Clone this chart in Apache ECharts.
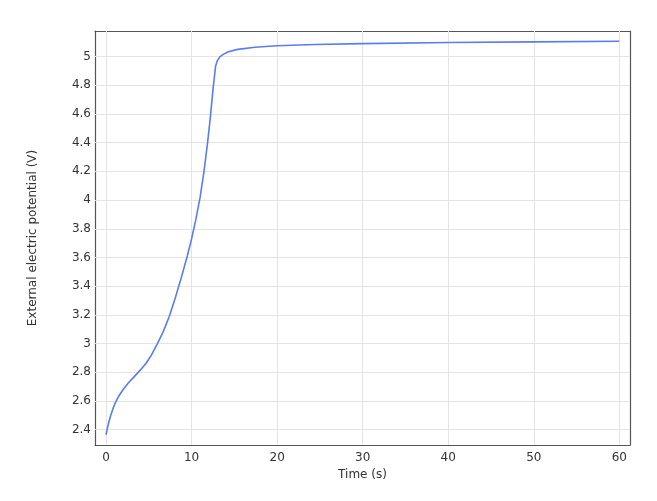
<!DOCTYPE html>
<html><head><meta charset="utf-8">
<script src="https://cdn.jsdelivr.net/npm/echarts@6/dist/echarts.min.js"></script>
<style>html,body{margin:0;padding:0;background:#fff}#c{width:657px;height:501px}</style>
</head><body><div id="c"></div>
<script>
const timeS = [0, 0.25, 0.5, 0.8, 1.1, 1.5, 2.0, 2.6, 3.3, 4.0, 4.7, 5.3, 5.92, 6.7, 7.4, 8.1, 8.8, 9.5, 10.0, 10.5, 11.0, 11.45, 11.87, 12.2, 12.5, 12.8, 13.0, 13.3, 13.7, 14.3, 15.4, 17.4, 20, 24.4, 30, 40, 50, 60];
const potentialV = [2.365, 2.435, 2.49, 2.545, 2.59, 2.635, 2.68, 2.725, 2.77, 2.815, 2.865, 2.92, 2.99, 3.085, 3.19, 3.32, 3.46, 3.61, 3.73, 3.865, 4.02, 4.2, 4.4, 4.58, 4.77, 4.93, 4.97, 4.998, 5.015, 5.033, 5.05, 5.065, 5.075, 5.084, 5.09, 5.098, 5.102, 5.107];
const xTicks = [0, 10, 20, 30, 40, 50, 60];
const yTicks = [2.4, 2.6, 2.8, 3, 3.2, 3.4, 3.6, 3.8, 4, 4.2, 4.4, 4.6, 4.8, 5];

const X_MIN = -1.29, X_MAX = 61.25, Y_MIN = 2.2935, Y_MAX = 5.178;
const font = 'DejaVu Sans';
const labelColor = '#333';
const frameColor = '#555';
const gridColor = '#e4e4e4';

function xAxisCfg(pos, showLabel) {
  return {
    type: 'value', position: pos, min: X_MIN, max: X_MAX,
    axisLine: { show: true, onZero: false, lineStyle: { color: frameColor, width: 1.2 } },
    axisTick: { show: true, inside: true, length: 5, customValues: xTicks, lineStyle: { color: frameColor } },
    axisLabel: { show: showLabel, customValues: xTicks, color: labelColor, fontFamily: font, fontSize: 12, margin: 7 },
    splitLine: { show: false },
    name: showLabel ? 'Time (s)' : '', nameLocation: 'middle', nameGap: 20,
    nameTextStyle: { color: labelColor, fontFamily: font, fontSize: 12 }
  };
}
function yAxisCfg(pos, showLabel) {
  return {
    type: 'value', position: pos, min: Y_MIN, max: Y_MAX,
    axisLine: { show: true, onZero: false, lineStyle: { color: frameColor, width: 1.2 } },
    axisTick: { show: true, inside: true, length: 5, customValues: yTicks, lineStyle: { color: frameColor } },
    axisLabel: { show: showLabel, customValues: yTicks, color: labelColor, fontFamily: font, fontSize: 12, margin: 4,
      formatter: v => String(Math.round(v * 10) / 10) },
    splitLine: { show: false },
    name: showLabel ? 'External electric potential (V)' : '', nameLocation: 'middle', nameGap: 56,
    nameTextStyle: { color: labelColor, fontFamily: font, fontSize: 12 }
  };
}

const data = timeS.map((t, i) => [t, potentialV[i]]);
const chart = echarts.init(document.getElementById('c'), null, { renderer: 'canvas' });
chart.setOption({
  animation: false,
  backgroundColor: '#fff',
  grid: { left: 95, right: 27, top: 31, bottom: 56, containLabel: false },
  xAxis: [xAxisCfg('bottom', true), xAxisCfg('top', false)],
  yAxis: [yAxisCfg('left', true), yAxisCfg('right', false)],
  series: [
    { type: 'line', xAxisIndex: 0, yAxisIndex: 0, data: data, showSymbol: false, smooth: false,
      lineStyle: { color: '#5b7bf2', width: 1.6, join: 'round' }, z: 5 },
    { type: 'line', xAxisIndex: 0, yAxisIndex: 0, data: [], silent: true,
      markLine: { silent: true, symbol: 'none', label: { show: false },
        lineStyle: { color: gridColor, type: 'solid', width: 1 },
        data: xTicks.map(v => ({ xAxis: v })).concat(yTicks.map(v => ({ yAxis: v }))) }, z: 1 }
  ]
});
</script></body></html>
